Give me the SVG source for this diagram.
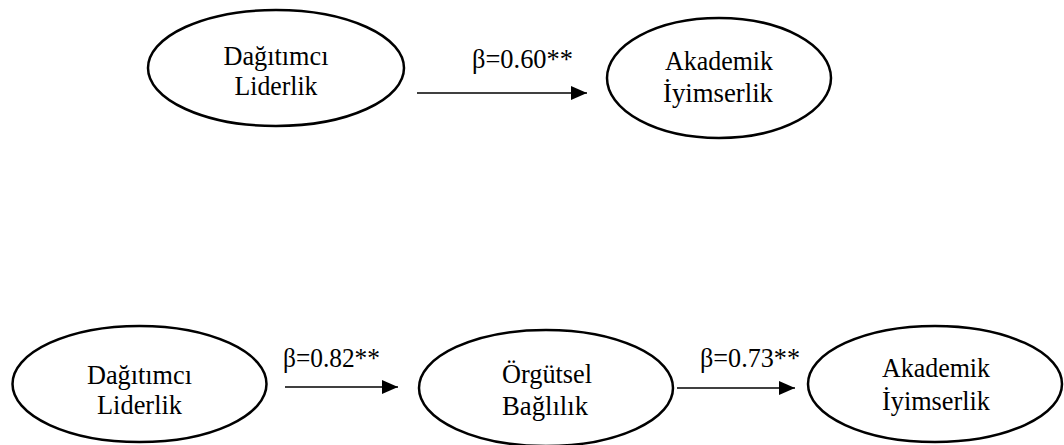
<svg xmlns="http://www.w3.org/2000/svg" width="1064" height="445" viewBox="0 0 1064 445">
<style>
.n ellipse{fill:#fff;stroke:#000;stroke-width:2.5}
text{font-family:"Liberation Serif","Times New Roman",serif;font-size:28px;fill:#000}
.n text{text-anchor:middle}
.c line{stroke:#000;stroke-width:1.6}
</style>
<defs>
<marker id="ah" markerWidth="16" markerHeight="14" refX="16" refY="7" orient="auto" markerUnits="userSpaceOnUse"><path d="M0,0 L16,7 L0,14 Z" fill="#000"/></marker>
</defs>
<g id="n1" class="n">
<ellipse cx="276" cy="68" rx="128" ry="58"/>
<text x="276" y="65" textLength="105" lengthAdjust="spacingAndGlyphs">Dağıtımcı</text>
<text x="276" y="95" textLength="83" lengthAdjust="spacingAndGlyphs">Liderlik</text>
</g>
<g id="n2" class="n">
<ellipse cx="719" cy="78" rx="112" ry="60"/>
<text x="719" y="70" textLength="108" lengthAdjust="spacingAndGlyphs">Akademik</text>
<text x="718" y="102" textLength="110" lengthAdjust="spacingAndGlyphs">İyimserlik</text>
</g>
<g id="n3" class="n">
<ellipse cx="139.5" cy="384" rx="127" ry="58"/>
<text x="139.5" y="384" textLength="105" lengthAdjust="spacingAndGlyphs">Dağıtımcı</text>
<text x="139.5" y="414" textLength="85" lengthAdjust="spacingAndGlyphs">Liderlik</text>
</g>
<g id="n4" class="n">
<ellipse cx="546" cy="388" rx="127" ry="58"/>
<text x="547" y="383" textLength="90" lengthAdjust="spacingAndGlyphs">Örgütsel</text>
<text x="545" y="415" textLength="86" lengthAdjust="spacingAndGlyphs">Bağlılık</text>
</g>
<g id="n5" class="n">
<ellipse cx="935" cy="384" rx="127" ry="58"/>
<text x="936" y="377" textLength="108" lengthAdjust="spacingAndGlyphs">Akademik</text>
<text x="936" y="410" textLength="108" lengthAdjust="spacingAndGlyphs">İyimserlik</text>
</g>
<g id="connectors" class="c">
<line x1="417" y1="93" x2="587" y2="93" marker-end="url(#ah)"/>
<line x1="285" y1="387" x2="398" y2="387" marker-end="url(#ah)"/>
<line x1="677" y1="388" x2="795" y2="388" marker-end="url(#ah)"/>
<text x="472" y="68" textLength="101" lengthAdjust="spacingAndGlyphs">β=0.60**</text>
<text x="283" y="367" textLength="97" lengthAdjust="spacingAndGlyphs">β=0.82**</text>
<text x="700" y="367" textLength="100" lengthAdjust="spacingAndGlyphs">β=0.73**</text>
</g>
</svg>
